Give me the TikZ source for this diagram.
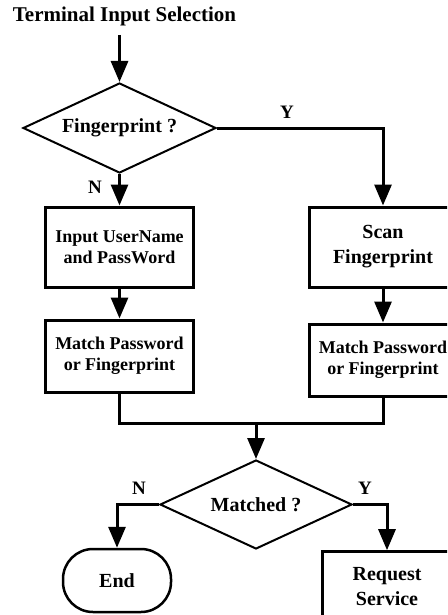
\documentclass[tikz,border=0pt]{standalone}
\usepackage{fontspec}
\setmainfont{Liberation Serif}
\usetikzlibrary{arrows.meta,shapes.geometric}
\begin{document}
\begin{tikzpicture}[x=1pt,y=-1pt,
  every node/.style={font=\bfseries\fontsize{20}{25}\selectfont, inner sep=0pt},
  conn/.style={line width=3pt},
  arr/.style={conn,-{Triangle[width=17pt,length=21pt]}},
  procbox/.style={draw,line width=3pt,rectangle,minimum width=148pt,align=center},
  small/.style={font=\bfseries\fontsize{18}{21}\selectfont},
  lbl/.style={font=\bfseries\fontsize{19}{19}\selectfont},
  decision/.style={draw,line width=2pt,diamond,align=center,shape aspect=2.15},
  term/.style={draw,line width=2.5pt,rectangle,rounded corners=30pt,minimum width=108pt,minimum height=63pt}]
\useasboundingbox (0,0) rectangle (447,615);
\clip (0,0) rectangle (447,615);

\node[font=\bfseries\fontsize{21}{25}\selectfont] (title) at (124.5,16) {Terminal Input Selection};
\coordinate (in) at (119.5,35);
\node[decision, minimum width=193pt, minimum height=90pt] (d1) at (119.5,128) {Fingerprint ?};
\node[procbox, small, minimum height=80pt] (b1) at (119.5,247) {Input UserName\\and PassWord};
\node[procbox, small, minimum height=72pt] (b2) at (119.5,356) {Match Password\\or Fingerprint};
\node[procbox, minimum height=80pt] (b3) at (383,247) {Scan\\Fingerprint};
\node[procbox, small, minimum height=72pt] (b4) at (383,360) {Match Password\\or Fingerprint};
\coordinate (j) at (256,423);
\node[decision, minimum width=192pt, minimum height=89pt] (d2) at (256,504.5) {Matched ?};
\node[term] (end) at (117,580.5) {End};
\node[procbox, minimum width=129pt, minimum height=70pt] (req) at (387,586.7) {Request\\Service};

\node[lbl] (y1) at (287,112) {Y};
\node[lbl] (n1) at (95,187) {N};
\node[lbl] (n2) at (139,488) {N};
\node[lbl] (y2) at (365,488) {Y};

\draw[arr] (in) -- (d1.north);
\draw[arr] (d1.east) -| (b3.north);
\draw[arr] (d1.south) -- (b1.north);
\draw[arr] (b1.south) -- (b2.north);
\draw[arr] (b3.south) -- (b4.north);
\draw[conn] (b2.south) |- (j);
\draw[conn] (b4.south) |- (j);
\draw[arr] (j) -- (d2.north);
\draw[arr] (d2.west) -| (end.north);
\draw[arr] (d2.east) -| (req.north);
\end{tikzpicture}
\end{document}
